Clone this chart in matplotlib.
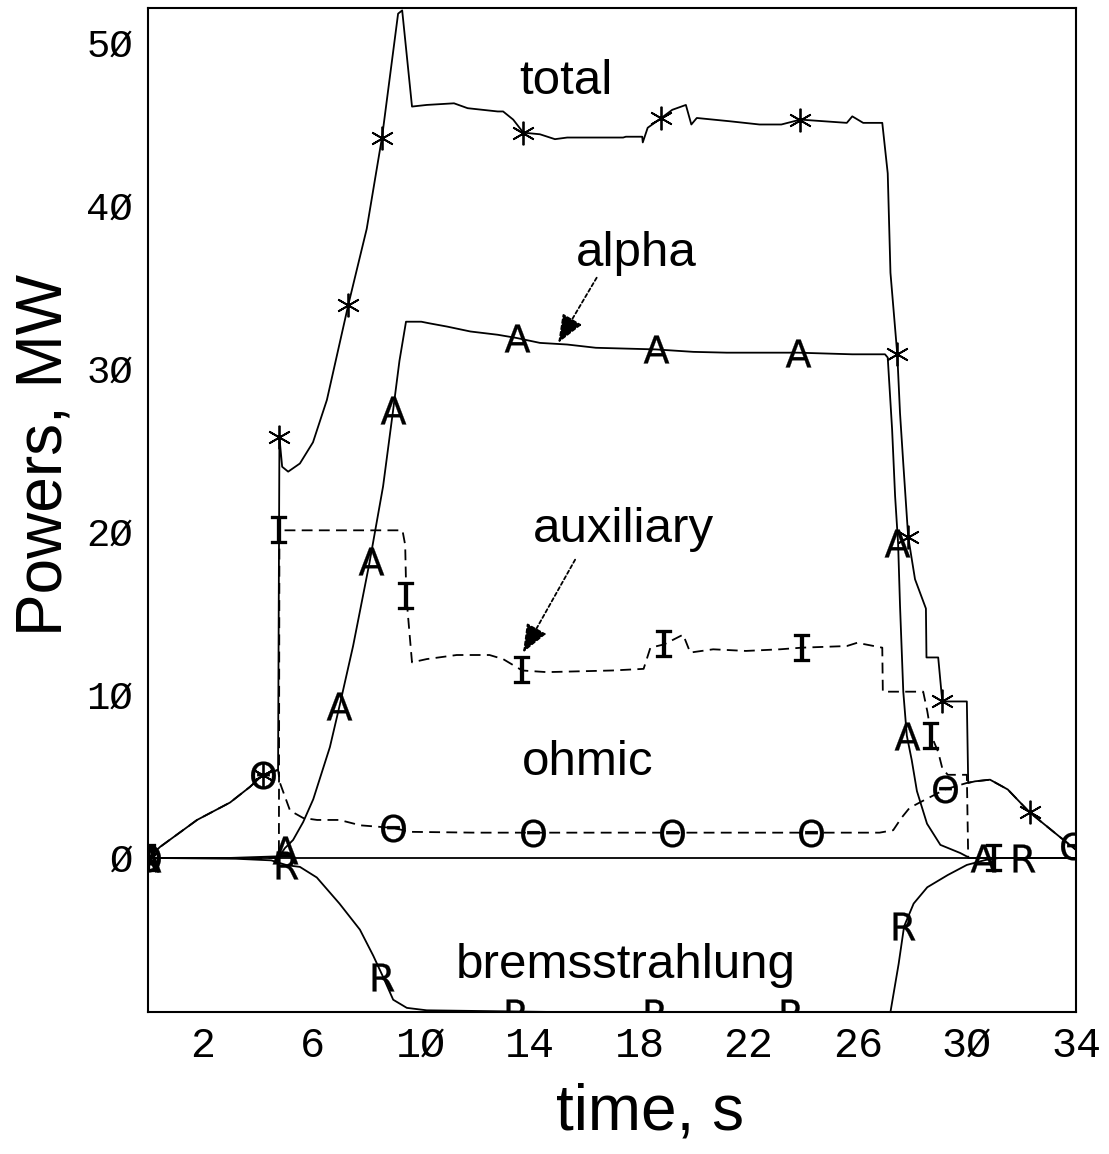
import numpy as np
import matplotlib
matplotlib.use('Agg')
import matplotlib.pyplot as plt

# Traced curves (time in s, power in MW)
total_t = [0, 0.42, 1.78, 2.99, 3.72, 4.2, 4.75, 4.8, 4.9, 5.12, 5.55, 6.03, 6.54, 7.32, 8.0, 8.56, 9.15,
           9.3, 9.66, 10.2, 11.2, 11.7, 12.8, 13.0, 13.37, 13.74, 14.35, 14.9, 15.35, 16.1, 17.4, 17.5, 18.1,
           18.12, 18.3, 18.8, 19.2, 19.7, 19.9, 20.1, 20.7, 21.3, 22.4, 23.2, 23.9, 25.6, 25.8, 26.2, 26.9,
           27.1, 27.2, 27.45, 27.55, 27.67, 27.85, 28.1, 28.5, 28.52, 28.95, 29.1, 30.0, 30.05, 30.3, 30.85,
           31.5, 32.3, 33.4, 34.0]
total_p = [0, 0.67, 2.33, 3.4, 4.36, 5.1, 5.4, 25.8, 24.0, 23.7, 24.2, 25.5, 28.1, 33.9, 38.6, 44.2, 51.8,
           52.0, 46.1, 46.2, 46.3, 46.0, 45.8, 45.8, 45.3, 44.5, 44.4, 44.1, 44.2, 44.2, 44.2, 44.25, 44.25,
           43.9, 44.8, 45.4, 45.9, 46.2, 45.0, 45.4, 45.3, 45.2, 45.0, 45.0, 45.3, 45.1, 45.5, 45.1, 45.1,
           42.0, 35.9, 30.9, 27.3, 24.2, 19.7, 17.1, 15.3, 12.3, 12.3, 9.6, 9.6, 4.6, 4.7, 4.8,
           4.2, 2.8, 1.3, 0.5]

alpha_t = [0, 3.0, 4.8, 5.0, 5.3, 5.67, 6.04, 6.65, 7.0, 7.5, 8.1, 8.6, 8.97, 9.2, 9.44, 10.0, 10.3, 10.95,
           11.8, 12.8, 13.5, 14.35, 15.35, 16.4, 18.6, 19.97, 21.2, 23.8, 25.8, 27.0, 27.1, 27.26, 27.37,
           27.48, 27.55, 27.67, 27.8, 27.98, 28.17, 28.54, 29.03, 29.76, 30.1, 34.0]
alpha_p = [0, 0.0, 0.1, 0.6, 1.1, 2.2, 3.6, 6.8, 9.3, 13.0, 18.1, 22.8, 27.5, 30.5, 32.9, 32.9, 32.8, 32.6,
           32.3, 32.1, 31.9, 31.6, 31.5, 31.3, 31.2, 31.05, 31.0, 31.0, 30.9, 30.9, 30.7, 26.3, 22.2,
           19.3, 15.5, 10.2, 7.5, 6.0, 4.1, 2.1, 0.8, 0.3, 0.0, 0.0]

aux_t = [0, 4.78, 4.8, 9.31, 9.41, 9.45, 9.66, 10.2, 11.3, 12.5, 13.0, 13.7, 14.6, 17.0, 18.15, 18.4, 18.9,
         19.6, 19.86, 20.7, 21.9, 23.15, 23.95, 25.6, 25.98, 26.9, 26.92, 28.4, 28.55, 28.7, 28.95, 29.1,
         29.3, 30.0, 30.05, 34.0]
aux_p = [0, 0, 20.1, 20.1, 19.2, 16.1, 12.0, 12.2, 12.45, 12.45, 12.2, 11.5, 11.4, 11.5, 11.6, 12.9, 13.1,
         13.7, 12.6, 12.8, 12.7, 12.8, 12.9, 13.0, 13.2, 12.9, 10.2, 10.2, 9.0, 7.5, 6.5, 5.5,
         5.1, 5.1, 0.0, 0.0]

ohmic_t = [0, 0.42, 1.78, 2.99, 3.72, 4.2, 4.75, 4.82, 5.19, 5.67, 6.18, 7.0, 7.77, 8.97, 9.6, 12.0, 16.0,
           20.0, 24.0, 26.8, 27.3, 27.6, 27.9, 28.5, 29.2, 30.0, 30.3, 30.85, 31.5, 32.3, 33.4, 34.0]
ohmic_p = [0, 0.67, 2.33, 3.4, 4.36, 5.1, 5.4, 4.6, 2.9, 2.45, 2.33, 2.33, 2.0, 1.84, 1.6, 1.55, 1.55,
           1.55, 1.55, 1.55, 1.7, 2.45, 3.07, 3.6, 4.2, 4.6, 4.7, 4.8, 4.2, 2.8, 1.3, 0.5]

brem_t = [0, 3.2, 4.5, 5.08, 5.55, 6.17, 7.0, 7.75, 8.24, 8.6, 8.97, 9.47, 10.2, 14.7, 15.0, 27.0, 27.2,
          27.5, 27.7, 28.05, 28.55, 29.3, 30.0, 30.7, 31.2, 34.0]
brem_p = [0, -0.05, -0.15, -0.45, -0.55, -1.2, -2.8, -4.4, -6.0, -7.3, -8.7, -9.2, -9.35, -9.45, -9.6, -9.6,
          -9.45, -6.5, -4.2, -2.8, -1.8, -1.05, -0.43, -0.12, 0.0, 0.0]

# Where the letter markers sit on each curve
total_mk_t = [0, 4.2, 4.8, 7.32, 8.56, 13.74, 18.8, 23.9, 27.45, 27.85, 29.1, 32.3]
total_mk_p = [0, 5.1, 25.8, 33.9, 44.2, 44.5, 45.4, 45.3, 30.9, 19.7, 9.6, 2.8]
alpha_mk_t = [0, 5.0, 7.0, 8.15, 8.97, 13.5, 18.6, 23.8, 27.45, 27.8, 30.6]
alpha_mk_p = [0, 0.5, 9.3, 18.2, 27.5, 31.9, 31.2, 31.0, 19.3, 7.5, 0.0]
aux_mk_t = [0, 4.8, 9.45, 13.7, 18.9, 23.95, 28.7, 31.0]
aux_mk_p = [0, 20.1, 16.1, 11.5, 13.1, 12.9, 7.5, 0.0]
ohmic_mk_t = [0, 4.2, 8.97, 14.1, 19.2, 24.3, 29.2, 33.9]
ohmic_mk_p = [0, 5.1, 1.84, 1.55, 1.55, 1.55, 4.2, 0.75]
brem_mk_t = [0, 5.08, 8.6, 13.5, 18.6, 23.6, 27.7, 32.1]
brem_mk_p = [0, -0.45, -7.3, -9.5, -9.5, -9.5, -4.2, 0.0]

x_ticks = [2, 6, 10, 14, 18, 22, 26, 30, 34]
x_tick_labels = ['2', '6', '1Ø', '14', '18', '22', '26', '3Ø', '34']
y_ticks = [0, 10, 20, 30, 40, 50]
y_tick_labels = ['Ø', '1Ø', '2Ø', '3Ø', '4Ø', '5Ø']

fig = plt.figure(figsize=(11.09, 11.54), dpi=100)
ax = fig.add_axes([0.1339, 0.1231, 0.8363, 0.870])

lw = 1.3
dash = (0, (6, 3.5))

# The curves themselves
ax.axhline(0, color='black', lw=lw)
ax.plot(total_t, total_p, color='black', lw=lw)
ax.plot(alpha_t, alpha_p, color='black', lw=lw)
ax.plot(aux_t, aux_p, color='black', lw=lw, linestyle=dash)
ax.plot(ohmic_t, ohmic_p, color='black', lw=lw, linestyle=dash)
ax.plot(brem_t, brem_p, color='black', lw=lw)

# The markers on the curves
ax.plot(total_mk_t, total_mk_p, linestyle='none', marker=(6, 2, 0), ms=17, mew=1.3, color='black')
ax.plot(alpha_mk_t, alpha_mk_p, linestyle='none', marker='$\\mathrm{A}$', ms=20, mew=0.2, color='black')
ax.plot(aux_mk_t, aux_mk_p, linestyle='none', marker='$\\mathtt{I}$', ms=20, mew=0.2, color='black')
ax.plot(ohmic_mk_t, ohmic_mk_p, linestyle='none', marker='$\\Theta$', ms=20, mew=0.2, color='black')
ax.plot(brem_mk_t, brem_mk_p, linestyle='none', marker='$\\mathrm{R}$', ms=20, mew=0.2, color='black')

ax.set_xlim(0, 34)
ax.set_ylim(-9.45, 52.15)

ax.set_xticks(x_ticks)
ax.set_xticklabels(x_tick_labels, family='Liberation Mono', size=30)
ax.set_yticks(y_ticks)
ax.set_yticklabels(y_tick_labels, family='Liberation Mono', size=28)
ax.tick_params(length=0)
ax.tick_params(axis='x', pad=10)
ax.tick_params(axis='y', pad=11)
for s in ax.spines.values():
    s.set_linewidth(1.5)

# Curve names and the two arrows
label_font = dict(family='Liberation Sans', size=35.5)
ax.text(15.31, 46.9, 'total', ha='center', va='baseline', fontdict=label_font)
ax.text(17.9, 36.3, 'alpha', ha='center', va='baseline', fontdict=label_font)
ax.text(17.4, 19.4, 'auxiliary', ha='center', va='baseline', fontdict=label_font)
ax.text(16.1, 5.1, 'ohmic', ha='center', va='baseline', fontdict=label_font)
ax.text(17.5, -7.36, 'bremsstrahlung', ha='center', va='baseline', fontdict=label_font)

arrow = dict(arrowstyle='-|>,head_length=0.7,head_width=0.28', color='black', lw=1.3,
             linestyle=(0, (2, 1.5)), mutation_scale=25, shrinkA=0, shrinkB=0)
ax.annotate('', xy=(15.02, 31.6), xytext=(16.43, 35.6), arrowprops=arrow)
ax.annotate('', xy=(13.73, 12.6), xytext=(15.64, 18.3), arrowprops=arrow)

fig.text(0.040, 0.606, 'Powers, MW', rotation=90, ha='center', va='center',
         family='Liberation Sans', size=46)
fig.text(0.586, 0.036, 'time, s', ha='center', va='center', family='Liberation Sans', size=46)

fig.savefig('out.png', dpi=100)
